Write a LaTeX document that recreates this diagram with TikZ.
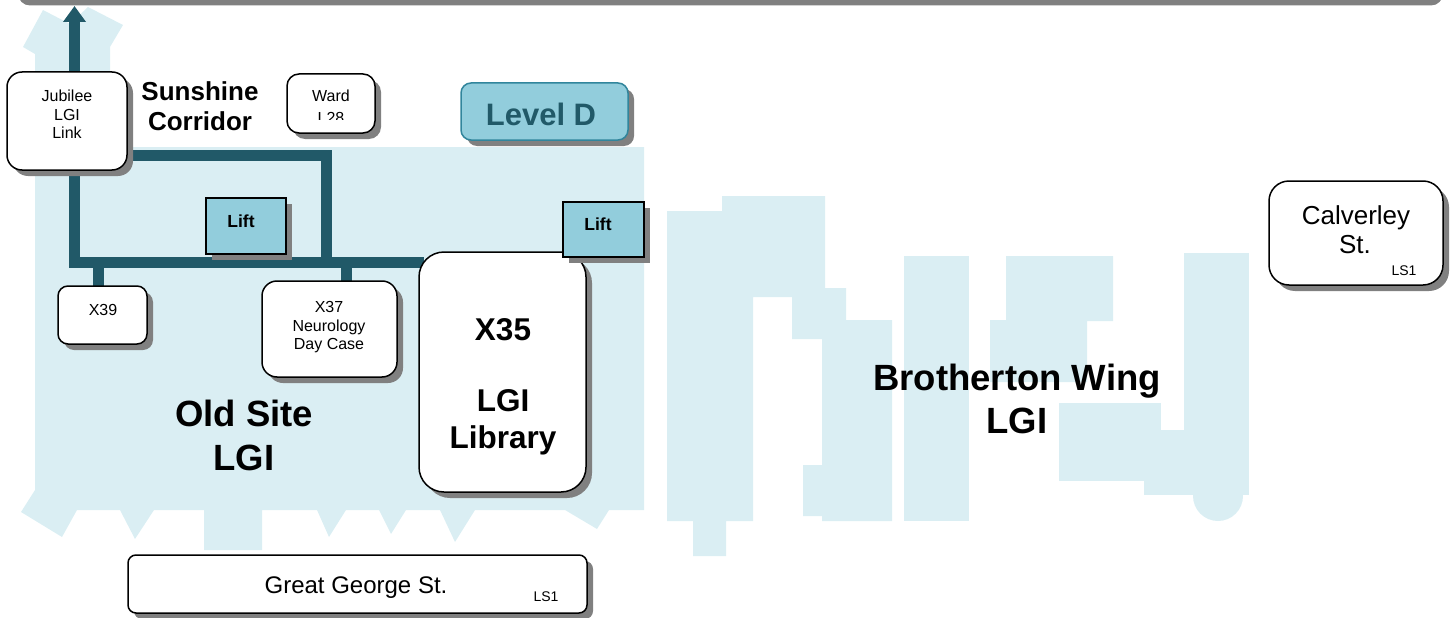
\documentclass[tikz,border=0pt]{standalone}
\usepackage{fontspec}
\setmainfont{Liberation Sans}
\usetikzlibrary{shadows,arrows.meta}
\definecolor{lightbg}{RGB}{218,238,243}
\definecolor{corrcol}{RGB}{33,89,104}
\definecolor{liftfill}{RGB}{146,205,220}
\definecolor{levelborder}{RGB}{49,133,156}
\definecolor{shadowgray}{RGB}{128,128,128}
\pgfdeclarelayer{bglayer}
\pgfdeclarelayer{corrlayer}
\pgfsetlayers{bglayer,corrlayer,main}
\begin{document}
\begin{tikzpicture}[x=1pt,y=-1pt,
  shad/.style={drop shadow={shadow xshift=6pt,shadow yshift=-6pt,fill=shadowgray,opacity=1}},
  box/.style={shad, rectangle, draw=black, line width=1.5pt, fill=white, inner sep=0pt},
  liftbox/.style={shad, rectangle, draw=black, line width=1.5pt, fill=liftfill, inner sep=0pt},
  corr/.style={draw=corrcol, line width=11pt, line cap=rect, line join=miter},
  txt/.style={anchor=base, inner sep=0pt},
  smalltxt/.style={txt, font=\fontsize{16}{18}\selectfont},
  lifttxt/.style={txt, font=\bfseries\fontsize{17.5}{20}\selectfont},
  bigtxt/.style={txt, font=\bfseries\fontsize{36.5}{40}\selectfont},
  libtxt/.style={txt, font=\bfseries\fontsize{31.5}{36}\selectfont},
  lstxt/.style={txt, font=\fontsize{14}{16}\selectfont},
  area/.style={fill=lightbg}]
\useasboundingbox (0,0) rectangle (1454,618);

% top bar (shadow of a box above the picture)
\fill[shadowgray, rounded corners=12pt] (18,-40) rectangle (1443,5.5);

% ---------- light blue building areas ----------
\begin{pgfonlayer}{bglayer}
\fill[area] (35,75) -- (35,54) -- (23,47) -- (43,10) -- (70,24) -- (88,7) -- (123,25) -- (110,47)
  -- (110,147) -- (644,147) -- (644,510) -- (609,510) -- (597,529) -- (565,510) -- (475,510)
  -- (455,542) -- (440,510) -- (406,510) -- (391,534) -- (379,510) -- (346,510) -- (329,537)
  -- (317,510) -- (262,510) -- (262,550) -- (204,550) -- (204,510) -- (154,510) -- (135,539)
  -- (120,510) -- (77,510) -- (62,537) -- (21,512) -- (35,490) -- cycle;
\fill[area] (667,211) -- (722,211) -- (722,196) -- (825,196) -- (825,288) -- (846,288) -- (846,320)
  -- (892,320) -- (892,521) -- (822,521) -- (822,516) -- (803,516) -- (803,465) -- (822,465)
  -- (822,339) -- (792,339) -- (792,297) -- (753,297) -- (753,521) -- (726,521) -- (726,556)
  -- (693,556) -- (693,521) -- (667,521) -- cycle;
\fill[area] (904,256) rectangle (969,521);
\fill[area] (1006,256) -- (1113,256) -- (1113,321) -- (1087,321) -- (1087,382) -- (990,382)
  -- (990,320) -- (1006,320) -- cycle;
\fill[area] (1059,403) rectangle (1161,481);
\fill[area] (1144,430) rectangle (1249,495);
\fill[area] (1184,253) rectangle (1249,495);
\fill[area] (1218,496) circle[radius=25];
\end{pgfonlayer}

% ---------- boxes ----------
\node[box, rounded corners=15pt, minimum width=120pt, minimum height=98pt] (jub) at (67,121) {};
\node[box, rounded corners=12pt, minimum width=88pt, minimum height=59pt] (ward) at (331,103.5) {};
\node[shad, rectangle, draw=levelborder, line width=1.5pt, fill=liftfill, rounded corners=10pt,
      minimum width=167pt, minimum height=57pt, inner sep=0pt] (level) at (544.5,111.5) {};
\node[liftbox, minimum width=80pt, minimum height=56pt] (lift1) at (246,226) {};
\node[box, rounded corners=10pt, minimum width=89pt, minimum height=58pt] (x39) at (102.5,315) {};
\node[box, rounded corners=15pt, minimum width=135pt, minimum height=96pt] (x37) at (329.5,329) {};
\node[box, rounded corners=25pt, minimum width=167pt, minimum height=240pt] (x35) at (502.5,372) {};
\node[liftbox, minimum width=81pt, minimum height=55pt] (lift2) at (603.5,229.5) {};
\node[box, rounded corners=20pt, minimum width=174pt, minimum height=104pt] (calv) at (1356,233) {};
\node[box, rounded corners=8pt, minimum width=459pt, minimum height=58pt] (ggs) at (357.5,584) {};

% ---------- corridors ----------
\coordinate (tip) at (74.5,6);
\coordinate (jc) at (74.5,262);
\coordinate (tr) at (326.5,155);
\coordinate (jn) at (326.5,262);
\coordinate (s39) at (98.5,262);
\coordinate (s37) at (346.5,262);
\begin{pgfonlayer}{corrlayer}
\draw[corr, line cap=butt, -{Triangle[width=22pt,length=16pt]}] (jub.north -| tip) -- (tip);
\draw[corr] (jub.south -| jc) -- (jc) -- (x35.west |- jc);
\draw[corr] (jub.east |- tr) -- (tr) -- (jn);
\draw[corr] (s39) -- (x39.north -| s39);
\draw[corr] (s37) -- (x37.north -| s37);
\end{pgfonlayer}

% ---------- texts ----------
\node[smalltxt] (jub1) at (67,102) {Jubilee};
\node[smalltxt] (jub2) at (67,120) {LGI};
\node[smalltxt] (jub3) at (67,138) {Link};
\node[txt, font=\bfseries\fontsize{26}{30}\selectfont] (sun1) at (200,100) {Sunshine};
\node[txt, font=\bfseries\fontsize{26}{30}\selectfont] (sun2) at (200,130) {Corridor};
\node[smalltxt] (ward1) at (331,102) {Ward};
\begin{scope}
\clip (287,74) rectangle (375,119.5);
\node[smalltxt] (ward2) at (331,123) {L28};
\end{scope}
\node[txt, text=corrcol, font=\bfseries\fontsize{31}{36}\selectfont] (leveltxt) at (541,125) {Level D};
\node[lifttxt] (lift1txt) at (241,227) {Lift};
\node[lifttxt] (lift2txt) at (598,230) {Lift};
\node[smalltxt] (x39txt) at (103,315) {X39};
\node[smalltxt] (x37a) at (329,312) {X37};
\node[smalltxt] (x37b) at (329,331) {Neurology};
\node[smalltxt] (x37c) at (329,349) {Day Case};
\node[libtxt] (x35a) at (503,340) {X35};
\node[libtxt] (x35b) at (503,411) {LGI};
\node[libtxt] (x35c) at (503,448) {Library};
\node[bigtxt] (old1) at (244,426) {Old Site};
\node[bigtxt] (old2) at (244,470) {LGI};
\node[bigtxt] (bro1) at (1017,390) {Brotherton Wing};
\node[bigtxt] (bro2) at (1017,433) {LGI};
\node[txt, font=\fontsize{26}{30}\selectfont] (calv1) at (1356,224) {Calverley};
\node[txt, font=\fontsize{26}{30}\selectfont] (calv2) at (1355,253) {St.};
\node[lstxt] (calvls) at (1404,275) {LS1};
\node[txt, font=\fontsize{24}{28}\selectfont] (ggstxt) at (356,593) {Great George St.};
\node[lstxt] (ggsls) at (546,601) {LS1};
\end{tikzpicture}
\end{document}
